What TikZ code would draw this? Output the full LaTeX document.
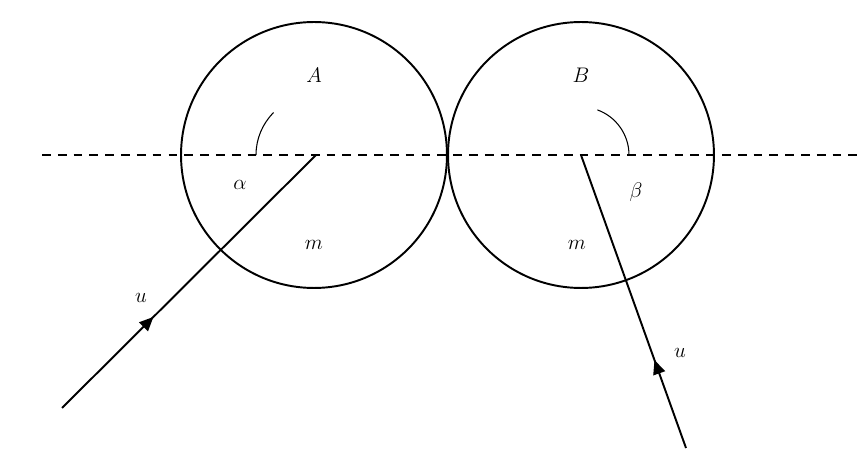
\documentclass[tikz,border=0pt]{standalone}
\usetikzlibrary{arrows.meta,decorations.markings}
\begin{document}
\begin{tikzpicture}[x=0.02cm,y=-0.02cm,
  ball/.style={draw,line width=1.1pt},
  ray/.style={line width=1.1pt,postaction={decorate},decoration={markings,mark=at position #1 with {\arrow{Triangle[length=8pt,width=7pt]}}}},
  lbl/.style={font=\fontsize{12}{14}\selectfont}]
\useasboundingbox (0,0) rectangle (867,476);
\node[ball,circle,minimum size=5.32cm,inner sep=0] (A) at (314,155) {};
\node[ball,circle,minimum size=5.32cm,inner sep=0] (B) at (581,155) {};
\coordinate (L) at (42,155); \coordinate (R) at (857,155);
\draw[dashed,line width=1.1pt,dash pattern=on 5pt off 4pt] (L) -- (R);
\coordinate (OA) at (316,155); \coordinate (SA) at (62,408);
\coordinate (OB) at (581,155); \coordinate (SB) at (686,448);
\draw[ray=0.36] (SA) -- (OA);
\draw[ray=0.3] (SB) -- (OB);
\draw[line width=0.6pt] (OA) ++(180:60) arc[start angle=180,end angle=225,radius=60];
\draw[line width=0.6pt] (OB) ++(0:48) arc[start angle=0,end angle=-70,radius=48];
\node[lbl] (tA) at (314,75) {$A$};
\node[lbl] (tB) at (581,75) {$B$};
\node[lbl] (m1) at (314,245) {$m$};
\node[lbl] (m2) at (577,245) {$m$};
\node[lbl] (al) at (240,185) {$\alpha$};
\node[lbl] (be) at (636,192) {$\beta$};
\node[lbl] (u1) at (141,298) {$u$};
\node[lbl] (u2) at (680,353) {$u$};
\end{tikzpicture}
\end{document}
